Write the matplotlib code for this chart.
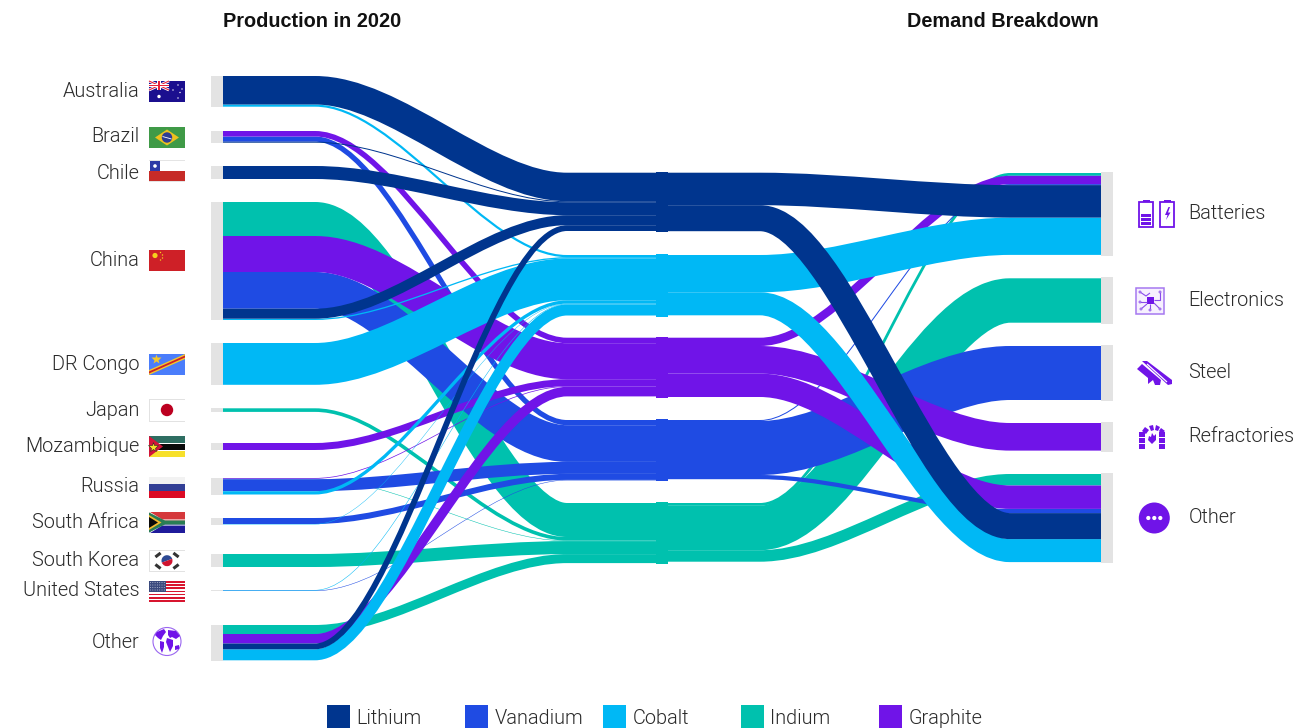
import numpy as np
import matplotlib
matplotlib.use("Agg")
import matplotlib.pyplot as plt
from matplotlib.path import Path
from matplotlib.patches import PathPatch, Rectangle, Polygon, Circle, Ellipse, Wedge

# ---------------- data (stream widths) ----------------
materials = ["Lithium", "Vanadium", "Cobalt", "Indium", "Graphite"]
colors = {"Lithium": "#00358E", "Vanadium": "#1F4BE3", "Cobalt": "#00B8F5",
          "Indium": "#00C1AE", "Graphite": "#7014E8"}

australia = [("Lithium", 28.5), ("Cobalt", 2.2)]
brazil = [("Graphite", 5.5), ("Vanadium", 5.2), ("Lithium", 1.0)]
chile = [("Lithium", 13.0)]
china = [("Indium", 34.0), ("Graphite", 36.0), ("Vanadium", 36.7), ("Lithium", 10.0), ("Cobalt", 1.3)]
dr_congo = [("Cobalt", 41.8)]
japan = [("Indium", 3.6)]
mozambique = [("Graphite", 7.0)]
russia = [("Graphite", 0.7), ("Indium", 0.5), ("Vanadium", 12.0), ("Cobalt", 3.3)]
south_africa = [("Vanadium", 6.0), ("Cobalt", 0.4)]
south_korea = [("Indium", 13.0)]
united_states = [("Cobalt", 0.5), ("Vanadium", 0.5)]
other_prod = [("Indium", 9.0), ("Graphite", 9.5), ("Lithium", 5.8), ("Cobalt", 11.0)]

source_names = ["Australia", "Brazil", "Chile", "China", "DR Congo", "Japan", "Mozambique",
                "Russia", "South Africa", "South Korea", "United States", "Other"]
source_flows = [australia, brazil, chile, china, dr_congo, japan, mozambique,
                russia, south_africa, south_korea, united_states, other_prod]

batteries = [("Indium", 2.8), ("Graphite", 8.3), ("Vanadium", 1.0), ("Lithium", 32.5), ("Cobalt", 37.3)]
electronics = [("Indium", 44.4)]
steel = [("Vanadium", 54.0)]
refractories = [("Graphite", 27.6)]
other_use = [("Indium", 11.5), ("Graphite", 23.4), ("Vanadium", 4.2), ("Lithium", 26.0), ("Cobalt", 23.0)]

demand_names = ["Batteries", "Electronics", "Steel", "Refractories", "Other"]
demand_flows = [batteries, electronics, steel, refractories, other_use]

# ---------------- layout ----------------
W, H = 1315, 728
source_tops = [76, 131, 166, 202, 343, 408.3, 443, 478, 518, 554, 590, 625]
demand_tops = [173, 278.3, 346, 423, 474]
mid_order = ["Lithium", "Cobalt", "Graphite", "Vanadium", "Indium"]
mid_tops = [172.7, 255, 337.7, 420, 503]
draw_order = ["Indium", "Vanadium", "Graphite", "Cobalt", "Lithium"]
source_label_y = [91.5, 136.5, 173.5, 260.5, 364.5, 410.5, 446.5, 486.5, 522.5, 560.5, 590.5, 642.5]
demand_label_y = [213.5, 300.5, 372.5, 436.5, 517.5]
CTRL = 0.32
GRAY = "#E3E3E3"
INK = "#2A2A2A"
PUR = colors["Graphite"]

plt.rcParams["font.family"] = ["Roboto", "Liberation Sans", "DejaVu Sans"]

fig = plt.figure(figsize=(W / 100, H / 100), dpi=100, facecolor="white")
ax = fig.add_axes([0, 0, 1, 1])
ax.set_xlim(0, W)
ax.set_ylim(H, 0)
ax.axis("off")


def ribbon(x0, xa, xb, x1, y0, y1, v, c, z):
    d = (xb - xa) * CTRL
    verts = [(x0, y0), (xa, y0), (xa + d, y0), (xb - d, y1), (xb, y1), (x1, y1)]
    codes = [Path.MOVETO, Path.LINETO, Path.CURVE4, Path.CURVE4, Path.CURVE4, Path.LINETO]
    ax.add_patch(PathPatch(Path(verts, codes), fill=False, edgecolor=c, lw=v * 72 / 100,
                           capstyle="butt", joinstyle="round", zorder=z))


def stack_flows(flow_lists, tops):
    out = []
    for flows, top in zip(flow_lists, tops):
        y = top
        row = []
        for m, v in flows:
            row.append((m, v, y + v / 2))
            y += v
        out.append(row)
    return out


left_pos = stack_flows(source_flows, source_tops)
right_pos = stack_flows(demand_flows, demand_tops)

left_cursor = dict(zip(mid_order, mid_tops))
right_cursor = dict(zip(mid_order, mid_tops))
links = []
for row in left_pos:
    for m, v, yc in row:
        ym = left_cursor[m] + v / 2
        left_cursor[m] += v
        links.append((m, 223, 315, 567, 656, yc, ym, v))
for row in right_pos:
    for m, v, yc in row:
        ym = right_cursor[m] + v / 2
        right_cursor[m] += v
        links.append((m, 668, 760, 1010, 1101, ym, yc, v))

for i, mat in enumerate(draw_order):
    for m, x0, xa, xb, x1, y0, y1, v in links:
        if m == mat:
            ribbon(x0, xa, xb, x1, y0, y1, v, colors[m], 5 + i)

# middle node blocks
for m, top in zip(mid_order, mid_tops):
    bot = max(left_cursor[m], right_cursor[m])
    ax.add_patch(Rectangle((656, top - 1), 12, bot - top + 2, fc=colors[m], ec="none", zorder=12))

# grey end nodes
for flows, top in zip(source_flows, source_tops):
    h = sum(v for _, v in flows)
    ax.add_patch(Rectangle((211, top - 0.4), 12, h + 0.8, fc=GRAY, ec="none", zorder=3))
for flows, top in zip(demand_flows, demand_tops):
    h = sum(v for _, v in flows)
    ax.add_patch(Rectangle((1101, top - 1), 12, h + 2, fc=GRAY, ec="none", zorder=3))

# texts
LF = dict(family=["Roboto", "Liberation Sans"], fontweight=300, fontsize=14.3, color=INK)
for n, y in zip(source_names, source_label_y):
    ax.text(139.5, y, n, ha="right", va="center", **LF)
for n, y in zip(demand_names, demand_label_y):
    ax.text(1188.5, y, n, ha="left", va="center", **LF)
HF = dict(family=["Liberation Sans"], fontweight="bold", fontsize=14.3, color="#111111")
ax.text(223, 21.5, "Production in 2020", ha="left", va="center", **HF)
ax.text(907, 21.5, "Demand Breakdown", ha="left", va="center", **HF)

legend_x = [327, 465, 603, 741, 879]
for m, x in zip(materials, legend_x):
    ax.add_patch(Rectangle((x, 705), 23, 23, fc=colors[m], ec="none", zorder=3))
    ax.text(x + 29.5, 718, m, ha="left", va="center", **LF)


# ---------------- flags & icons (decoration) ----------------
def R(x, y, w, h, c, z=4, **k):
    ax.add_patch(Rectangle((x, y), w, h, fc=c, ec="none", zorder=z, **k))


def P(pts, c, z=5):
    ax.add_patch(Polygon(pts, closed=True, fc=c, ec="none", zorder=z))


def C(x, y, r, c, z=5):
    ax.add_patch(Circle((x, y), r, fc=c, ec="none", zorder=z))


def L(pts, c, lw=1.0, z=6):
    xs, ys = zip(*pts)
    ax.plot(xs, ys, color=c, lw=lw, zorder=z, solid_capstyle="butt")


FX, FW, FH = 149, 36, 21
# Australia
y = 81
R(FX, y, FW, FH, "#1B0F8F")
L([(FX, y), (FX + 20, y + 9)], "white", 2, 6)
L([(FX + 20, y), (FX, y + 9)], "white", 2, 6)
L([(FX, y), (FX + 20, y + 9)], "#E8203A", .8, 7)
L([(FX + 20, y), (FX, y + 9)], "#E8203A", .8, 7)
R(FX, y + 2.8, 20, 3.4, "white", 7)
R(FX + 8.3, y, 3.4, 9, "white", 7)
R(FX, y + 3.7, 20, 1.6, "#E8203A", 8)
R(FX + 9.2, y, 1.6, 9, "#E8203A", 8)
C(FX + 10, y + 15.5, 1.7, "white")
for dx, dy in [(29, 4), (33, 8), (24, 9), (29, 17), (31, 11.5)]:
    C(FX + dx, y + dy, .7, "white")
# Brazil
y = 127
R(FX, y, FW, FH, "#3F9A47")
P([(FX + 6, y + 10.5), (FX + 18, y + 2.5), (FX + 30, y + 10.5), (FX + 18, y + 18.5)], "#EDC11E")
C(FX + 18, y + 10.5, 5.2, "#2E3C93", 6)
L([(FX + 13.5, y + 9.5), (FX + 22.5, y + 12)], "white", .6, 7)
# Chile
y = 160
R(FX, y, FW + .5, FH + .5, "#E4E4E4")
R(FX + .5, y + .5, FW - .5, 10.5, "white", 5)
R(FX + .5, y + 11, FW - .5, 9.8, "#C62B27", 5)
R(FX + 1, y + 1, 10, 10, "#2D3AA6", 6)
C(FX + 6, y + 6, 1.8, "white", 7)
# China
y = 250
R(FX, y, FW, FH, "#CE2027")
C(FX + 6, y + 5.5, 2.6, "#F6CF1D")
for dx, dy in [(11.5, 2.5), (13.5, 5), (13.5, 8), (11.5, 10)]:
    C(FX + dx, y + dy, .7, "#F6CF1D")
# DR Congo
y = 354
R(FX, y, FW, FH, "#4A7DFB")
P([(FX, y + 16), (FX + 36, y), (FX + 36, y + 5), (FX, y + 21)], "#F3C82C")
P([(FX, y + 17.5), (FX + 36, y + 1.5), (FX + 36, y + 3.5), (FX, y + 19.5)], "#CE2027", 6)
ax.plot([FX + 7], [y + 5], marker="*", ms=7, color="#F3C82C", mec="none", zorder=6)
# Japan
y = 399
R(FX, y, FW + .5, FH + 1.5, "#E2E2E2")
R(FX + .7, y + .7, FW - .9, FH + .1, "white", 5)
C(FX + 18, y + 11, 6.2, "#BC0020", 6)
# Mozambique
y = 436
R(FX, y, FW, 7, "#2E6E62")
R(FX, y + 7, FW, 1, "white")
R(FX, y + 8, FW, 5.5, "#0A0A0A")
R(FX, y + 13.5, FW, 1, "white")
R(FX, y + 14.5, FW, 6.5, "#F7E02A")
P([(FX, y), (FX + 14, y + 10.5), (FX, y + 21)], "#D2143A", 6)
ax.plot([FX + 4.5], [y + 10.5], marker="*", ms=7, color="#F7E02A", mec="#222222", mew=.4, zorder=7)
# Russia
y = 477
R(FX, y, FW, 7, "#F2F2F2")
R(FX, y + 7, FW, 7, "#323F95")
R(FX, y + 14, FW, 7, "#DC0A24")
# South Africa
y = 512
R(FX, y, FW, 10.5, "#D5383B")
R(FX, y + 10.5, FW, 10.5, "#1F1B9B")
L([(FX, y), (FX + 13, y + 8), (FX + 36, y + 8)], "white", 0.8, 5)
L([(FX, y + 21), (FX + 13, y + 13), (FX + 36, y + 13)], "white", 0.8, 5)
P([(FX, y + .5), (FX + 16, y + 8.5), (FX + 36, y + 8.5), (FX + 36, y + 12.5), (FX + 16, y + 12.5), (FX, y + 20.5)], "#2A7D55", 6)
P([(FX, y + 3), (FX + 12.5, y + 10.5), (FX, y + 18)], "#F1B82C", 7)
P([(FX, y + 5), (FX + 9, y + 10.5), (FX, y + 16)], "#0A0A0A", 8)
# South Korea
y = 550
R(FX, y, FW + .5, FH + 1, "#E2E2E2")
R(FX + .7, y + .7, FW - .9, FH - .4, "white", 5)
ax.add_patch(Wedge((FX + 18, y + 10.7), 5.5, 160, 340, fc="#2D4A94", ec="none", zorder=6))
ax.add_patch(Wedge((FX + 18, y + 10.7), 5.5, 340, 160, fc="#D0142F", ec="none", zorder=6))
for dx, dy, a in [(9, 5, 1), (27, 5, -1), (9, 16.5, -1), (27, 16.5, 1)]:
    L([(FX + dx - 2.6, y + dy + 2 * a), (FX + dx + 2.6, y + dy - 2 * a)], "#333333", 2.2, 6)
# United States
y = 581
R(FX, y, FW, FH, "white")
for k in range(7):
    R(FX, y + k * 3.23, FW, 1.5, "#D8152F")
R(FX, y, 17, 10.5, "#3A4A7E", 6)
for i in range(7):
    for j in range(4):
        C(FX + 1.5 + i * 2.3, y + 1.5 + j * 2.5, .5, "#B9BFD4", 7)
# Other – globe
gx, gy, gr = 167, 641.5, 14
ax.add_patch(Circle((gx, gy), gr, fc="white", ec="#9A66F0", lw=.8, zorder=4))
P([(157, 632), (164, 629), (166, 632), (163, 636), (161, 640), (158, 638), (155, 635)], PUR)
P([(160, 641), (164, 642), (164, 647), (162, 653), (160, 648)], PUR)
P([(168, 630), (176, 631), (180, 636), (176, 639), (172, 637), (170, 638), (168, 635)], PUR)
P([(167, 638), (173, 640), (173, 646), (170, 652), (168, 647), (166, 642)], PUR)
P([(175, 646), (179, 645), (179, 649), (175, 650)], PUR)

# Battery icons
for bx in (1139.3, 1160.3):
    ax.add_patch(Rectangle((bx, 202), 14, 25, fc="none", ec=PUR, lw=1.3, zorder=5))
    R(bx + 3.5, 200, 7, 2, PUR)
for yy in (214, 218, 222):
    R(1141.5, yy, 9.6, 3, PUR)
P([(1168.5, 207), (1165, 215), (1167.5, 215), (1166, 220), (1170.5, 212.5), (1168, 212.5), (1170, 207)], PUR)

# Electronics icon
ax.add_patch(Rectangle((1136.5, 287.5), 28, 26, fc="#F6F0FE", ec="#A678F0", lw=1.1, zorder=5))
R(1147, 297, 7, 7, PUR, 6)
for pts in ([(1140, 292), (1146, 296), (1150, 293)], [(1140, 302), (1147, 302)], [(1141, 309), (1147, 304)],
            [(1160, 292), (1160, 300), (1154, 300)], [(1160, 309), (1154, 303)], [(1150, 304), (1150, 310)]):
    L(pts, "#8A4CEB", .8, 6)
for px, py in [(1140, 292), (1140, 302), (1141, 309), (1160, 292), (1160, 309), (1150, 310)]:
    ax.add_patch(Circle((px, py), 1.0, fc="white", ec="#8A4CEB", lw=.6, zorder=7))

# Steel icon
P([(1137, 369), (1142, 364), (1161, 380), (1160, 385), (1155, 385), (1153, 380), (1148, 384), (1148, 378)], PUR)
P([(1142, 361), (1147, 361), (1172, 380), (1172, 384), (1168, 385)], PUR)
L([(1147, 364), (1167, 382)], "white", .9, 7)

# Refractories icon
for px, py, pw, ph in [(1139, 444, 6, 5), (1139, 438, 6, 5), (1159, 444, 6, 5), (1159, 438, 6, 5),
                       (1139, 432, 6, 5), (1159, 432, 6, 5)]:
    R(px, py, pw, ph, PUR)
P([(1142, 431), (1145, 427), (1149, 430), (1146, 434)], PUR)
P([(1149, 426), (1153, 425), (1154, 430), (1151, 431)], PUR)
P([(1156, 425), (1160, 427), (1158, 431), (1155, 430)], PUR)
P([(1161, 428), (1165, 431), (1161, 434), (1159, 431)], PUR)
P([(1152, 433), (1154, 436), (1156, 434), (1156, 440), (1152, 444), (1148, 440), (1149, 436), (1151, 437)], PUR)

# Other icon
C(1154.3, 518, 15.5, PUR)
for dx in (-6, 0, 6):
    C(1154.3 + dx, 518, 2.1, "white", 6)

fig.savefig("out.png", dpi=100, facecolor="white")
